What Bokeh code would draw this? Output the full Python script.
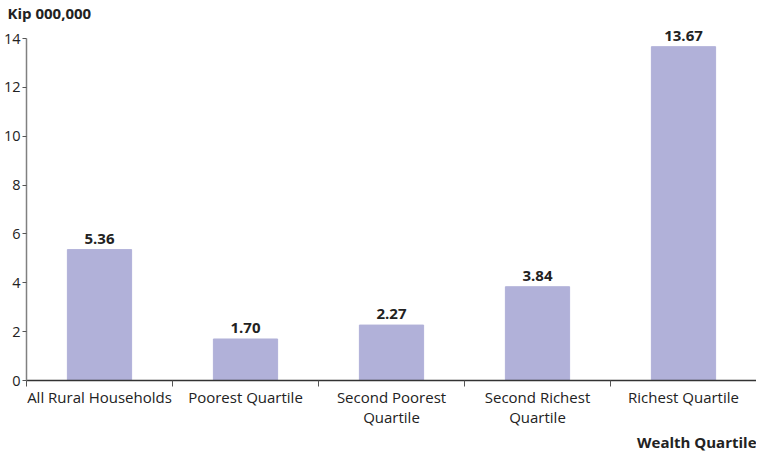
from bokeh.plotting import figure
from bokeh.models import ColumnDataSource, Range1d, FixedTicker, LabelSet, Title
from bokeh.core.properties import value
from bokeh.embed import file_html
from bokeh.resources import INLINE

categories = ["All Rural Households", "Poorest Quartile", "Second Poorest\nQuartile",
              "Second Richest\nQuartile", "Richest Quartile"]
values = [5.36, 1.70, 2.27, 3.84, 13.67]
value_labels = ["5.36", "1.70", "2.27", "3.84", "13.67"]
y_ticks = [0, 2, 4, 6, 8, 10, 12, 14]

FONT = "Open Sans"
TXT = "#222222"
xs = [i + 0.5 for i in range(len(categories))]
src = ColumnDataSource(dict(x=xs, top=values, lab=value_labels))

p = figure(frame_width=730, frame_height=358, output_backend="svg", toolbar_location=None,
           x_range=Range1d(0, 5), y_range=Range1d(0, 14.66),
           min_border_left=21, min_border_right=0, min_border_top=0, min_border_bottom=0)
p.outline_line_color = None
p.xgrid.visible = False
p.ygrid.visible = False

p.title.text = "Kip 000,000"
p.title.align = "left"
p.title.offset = -19
p.title.standoff = 0
p.title.text_font = FONT
p.title.text_font_size = "15px"
p.title.text_font_style = "bold"
p.title.text_color = TXT

p.vbar(x="x", top="top", width=0.44, source=src, color="#b1b1d9")

p.add_layout(LabelSet(x="x", y="top", text="lab", source=src, text_align="center",
                      text_baseline="bottom", y_offset=6, text_font=value(FONT),
                      text_font_style="bold", text_font_size="15px", text_color=TXT))

# y axis
p.yaxis.ticker = FixedTicker(ticks=y_ticks)
p.yaxis.bounds = (0, 14)
p.yaxis.axis_line_color = "#808080"
p.yaxis.axis_line_width = 1.5
p.yaxis.major_tick_line_color = "#555555"
p.yaxis.major_tick_out = 4
p.yaxis.major_tick_in = 0
p.yaxis.minor_tick_line_color = None
p.yaxis.major_label_text_font = FONT
p.yaxis.major_label_text_font_size = "14.5px"
p.yaxis.major_label_text_color = TXT
p.yaxis.major_label_standoff = 2

# x axis
p.xaxis.ticker = FixedTicker(ticks=xs, minor_ticks=list(range(len(categories) + 1)))
p.xaxis.major_label_overrides = {x: c for x, c in zip(xs, categories)}
p.xaxis.axis_line_color = "#333333"
p.xaxis.axis_line_width = 1.5
p.xaxis.major_tick_line_color = None
p.xaxis.major_tick_out = 0
p.xaxis.major_tick_in = 0
p.xaxis.minor_tick_line_color = "#555555"
p.xaxis.minor_tick_out = 6
p.xaxis.minor_tick_in = 0
p.xaxis.major_label_text_font = FONT
p.xaxis.major_label_text_font_size = "15px"
p.xaxis.major_label_text_color = TXT
p.xaxis.major_label_text_line_height = 1.0
p.xaxis.major_label_standoff = 0

p.add_layout(Title(text="Wealth Quartile", align="right", standoff=0, text_font=FONT,
                   text_font_size="15px", text_font_style="bold", text_color=TXT), "below")

open("out.html", "w").write(file_html(p, INLINE))
